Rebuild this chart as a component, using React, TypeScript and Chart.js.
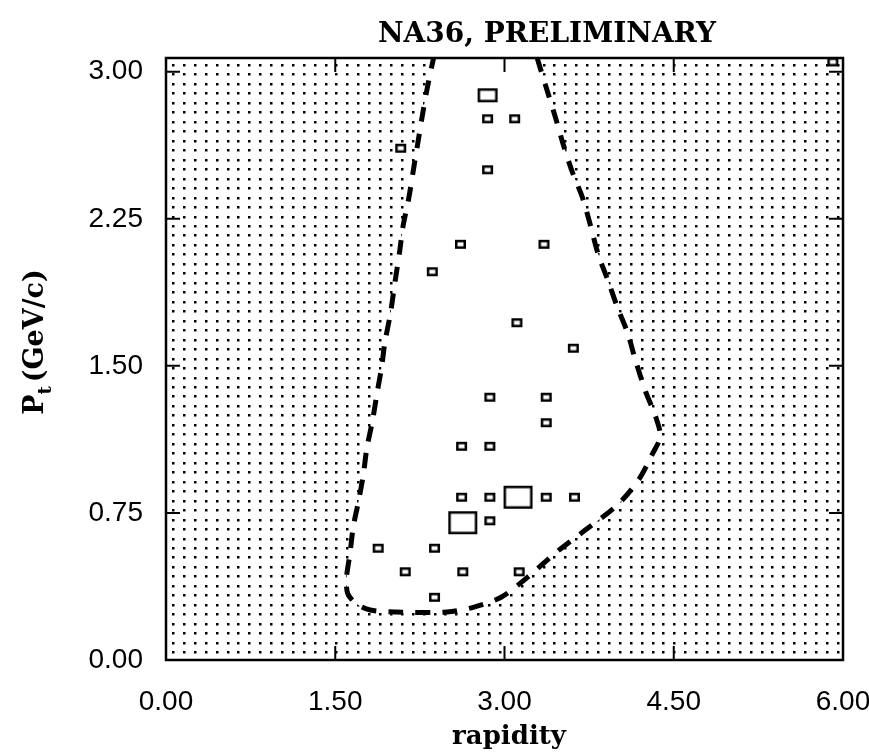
import React, { useEffect, useRef } from 'react';
import { Chart, registerables } from 'chart.js';

Chart.register(...registerables);

// ---- data ----
const xTickValues = [0, 1.5, 3, 4.5, 6];
const yTickValues = [0, 0.75, 1.5, 2.25, 3];

const titleText = 'NA36, PRELIMINARY';
const xTitle = 'rapidity';
const yTitleMain = 'P';
const yTitleSub = 't';
const yTitleRest = '(GeV/c)';

// measured squares (rapidity, Pt) and their size class (0 small, 1 medium, 2 large)
const pointX = [2.85, 2.85, 3.09, 2.08, 2.85, 2.61, 3.35, 2.36, 3.11, 3.61, 2.87, 3.37, 3.37, 2.62, 2.87, 2.62, 2.87, 3.12, 3.37, 3.62, 2.63, 2.87, 1.88, 2.38, 2.12, 2.63, 3.13, 2.38, 5.91];
const pointY = [2.88, 2.76, 2.76, 2.61, 2.50, 2.12, 2.12, 1.98, 1.72, 1.59, 1.34, 1.34, 1.21, 1.09, 1.09, 0.83, 0.83, 0.83, 0.83, 0.83, 0.70, 0.71, 0.57, 0.57, 0.45, 0.45, 0.45, 0.32, 3.05];
const pointSize = [1, 0, 0, 0, 0, 0, 0, 0, 0, 0, 0, 0, 0, 0, 0, 0, 0, 2, 0, 0, 2, 0, 0, 0, 0, 0, 0, 0, 0];

// acceptance contour (dashed), from top-left around to top-right
const contourX = [2.38, 2.36, 2.31, 2.27, 2.23, 2.19, 2.15, 2.10, 2.07, 2.03, 1.99, 1.94, 1.91, 1.87, 1.83, 1.78, 1.75, 1.71, 1.66, 1.63, 1.60, 1.61, 1.68, 1.81, 2.03, 2.49, 2.73, 2.97, 3.20, 3.46, 3.71, 4.00, 4.19, 4.31, 4.38, 4.34, 4.25, 4.16, 4.09, 4.00, 3.92, 3.83, 3.76, 3.69, 3.60, 3.52, 3.45, 3.38, 3.30, 3.28];
const contourY = [3.09, 3.04, 2.90, 2.77, 2.63, 2.49, 2.35, 2.21, 2.08, 1.93, 1.77, 1.62, 1.49, 1.36, 1.22, 1.08, 0.95, 0.82, 0.68, 0.54, 0.42, 0.34, 0.29, 0.255, 0.245, 0.245, 0.27, 0.32, 0.42, 0.55, 0.66, 0.79, 0.92, 1.05, 1.14, 1.24, 1.37, 1.53, 1.67, 1.80, 1.93, 2.07, 2.22, 2.36, 2.49, 2.63, 2.77, 2.90, 3.05, 3.09];

const squareDims: [number, number][] = [[11, 9], [20, 14], [29, 23]];

function makeRect(w: number, h: number) {
  const c = document.createElement('canvas');
  c.width = w + 2;
  c.height = h + 2;
  const g = c.getContext('2d')!;
  const lw = 2.5;
  g.fillStyle = '#fff';
  g.fillRect(1, 1, w, h);
  g.strokeStyle = '#000';
  g.lineWidth = lw;
  g.strokeRect(1 + lw / 2, 1 + lw / 2, w - lw, h - lw);
  return c;
}

const backgroundPlugin = {
  id: 'dotBackground',
  beforeDatasetsDraw(chart: any) {
    const { ctx, chartArea: a } = chart;
    ctx.save();
    ctx.beginPath();
    ctx.rect(a.left, a.top, a.right - a.left, a.bottom - a.top);
    ctx.clip();
    ctx.fillStyle = '#fff';
    ctx.fillRect(a.left, a.top, a.right - a.left, a.bottom - a.top);
    ctx.fillStyle = '#000';
    for (let y = a.top + 7; y < a.bottom - 1; y += 9.47) {
      for (let x = a.left + 7; x < a.right - 1; x += 10.9) {
        ctx.fillRect(Math.round(x) - 1, Math.round(y) - 1, 2.5, 2.5);
      }
    }
    // white interior of the contour
    const meta = chart.getDatasetMeta(1);
    const line = meta.dataset;
    ctx.beginPath();
    let ok = false;
    try {
      line.updateControlPoints(a, 'x');
      line.path(ctx);
      ok = true;
    } catch (e) {
      ok = false;
    }
    if (!ok) {
      ctx.beginPath();
      meta.data.forEach((p: any, i: number) => {
        if (i === 0) ctx.moveTo(p.x, p.y);
        else ctx.lineTo(p.x, p.y);
      });
    }
    ctx.closePath();
    ctx.fillStyle = '#fff';
    ctx.fill();
    ctx.restore();
  },
  afterDatasetsDraw(chart: any) {
    const { ctx, chartArea: a, scales } = chart;
    ctx.save();
    ctx.strokeStyle = '#000';
    ctx.lineWidth = 2;
    const tl = 14;
    ctx.beginPath();
    scales.x.ticks.forEach((t: any) => {
      const px = scales.x.getPixelForValue(t.value);
      if (px - a.left < 3 || a.right - px < 3) return;
      ctx.moveTo(px, a.bottom);
      ctx.lineTo(px, a.bottom - tl);
      ctx.moveTo(px, a.top);
      ctx.lineTo(px, a.top + tl);
    });
    scales.y.ticks.forEach((t: any) => {
      const py = scales.y.getPixelForValue(t.value);
      if (a.bottom - py < 3 || py - a.top < 3) return;
      ctx.moveTo(a.left, py);
      ctx.lineTo(a.left + tl, py);
      ctx.moveTo(a.right, py);
      ctx.lineTo(a.right - tl, py);
    });
    ctx.stroke();
    ctx.lineWidth = 2.5;
    ctx.strokeRect(a.left, a.top, a.right - a.left, a.bottom - a.top);
    ctx.restore();
  },
  afterDraw(chart: any) {
    const { ctx } = chart;
    ctx.save();
    ctx.fillStyle = '#000';
    // title
    ctx.font = 'bold 28px "DejaVu Serif", serif';
    ctx.textAlign = 'center';
    ctx.textBaseline = 'alphabetic';
    ctx.fillText(titleText, 547, 42);
    // x title
    ctx.font = 'bold 26px "DejaVu Serif", serif';
    ctx.fillText(xTitle, 509, 744);
    // y title (rotated, with subscript)
    const f1 = 'bold 27px "DejaVu Serif", serif';
    const f2 = 'bold 18px "DejaVu Serif", serif';
    ctx.font = f1;
    const wP = ctx.measureText(yTitleMain).width;
    const wR = ctx.measureText(yTitleRest).width;
    ctx.font = f2;
    const wt = ctx.measureText(yTitleSub).width;
    const gap = 4;
    const total = wP + wt + gap + wR;
    ctx.translate(43, 342);
    ctx.rotate(-Math.PI / 2);
    ctx.textAlign = 'left';
    let x = -total / 2;
    ctx.font = f1;
    ctx.fillText(yTitleMain, x, 0);
    x += wP;
    ctx.font = f2;
    ctx.fillText(yTitleSub, x, 8);
    x += wt + gap;
    ctx.font = f1;
    ctx.fillText(yTitleRest, x, 0);
    ctx.restore();
  },
};

export default function App() {
  const ref = useRef<HTMLCanvasElement | null>(null);
  useEffect(() => {
    if (!ref.current) return;
    const imgs = squareDims.map(([w, h]) => makeRect(w, h));
    const tickFont = { family: '"Liberation Sans", Arial, sans-serif', size: 28 };
    const chart = new Chart(ref.current, {
      type: 'scatter',
      data: {
        datasets: [
          {
            label: 'bins',
            data: pointX.map((x, i) => ({ x, y: pointY[i] })),
            pointStyle: (c: any) => imgs[pointSize[c.dataIndex]] as any,
            pointRadius: 4,
            pointHoverRadius: 4,
            showLine: false,
            clip: false as any,
            order: 1,
          } as any,
          {
            label: 'acceptance',
            data: contourX.map((x, i) => ({ x, y: contourY[i] })),
            showLine: true,
            borderColor: '#000',
            borderWidth: 5,
            borderDash: [15, 12],
            borderCapStyle: 'butt',
            pointRadius: 0,
            pointHoverRadius: 0,
            tension: 0.3,
            fill: false,
            order: 2,
          } as any,
        ],
      },
      options: {
        responsive: false,
        animation: false,
        events: [],
        layout: { padding: { top: 58, right: 26, left: 0, bottom: 0 } },
        plugins: {
          legend: { display: false },
          title: { display: false },
          tooltip: { enabled: false },
        },
        scales: {
          x: {
            type: 'linear',
            min: 0,
            max: 6,
            afterBuildTicks: (s: any) => {
              s.ticks = xTickValues.map((v) => ({ value: v }));
            },
            afterFit: (s: any) => {
              s.height = 94;
              s.paddingLeft = 0;
              s.paddingRight = 0;
            },
            ticks: {
              callback: (v: any) => Number(v).toFixed(2),
              font: tickFont,
              color: '#000',
              padding: 25,
              maxRotation: 0,
              autoSkip: false,
            },
            grid: { display: false, drawTicks: false },
            border: { display: false },
          },
          y: {
            type: 'linear',
            min: 0,
            max: 3.07,
            afterBuildTicks: (s: any) => {
              s.ticks = yTickValues.map((v) => ({ value: v }));
            },
            afterFit: (s: any) => {
              s.width = 166;
              s.paddingTop = 0;
              s.paddingBottom = 0;
            },
            ticks: {
              callback: (v: any) => Number(v).toFixed(2),
              font: tickFont,
              color: '#000',
              padding: 23,
              autoSkip: false,
            },
            grid: { display: false, drawTicks: false },
            border: { display: false },
          },
        },
      } as any,
      plugins: [backgroundPlugin],
    });
    return () => chart.destroy();
  }, []);
  return (
    <div style={{ position: 'absolute', left: 0, top: 0, width: 869, height: 754, background: '#fff' }}>
      <canvas ref={ref} width={869} height={754} style={{ display: 'block' }} />
    </div>
  );
}
